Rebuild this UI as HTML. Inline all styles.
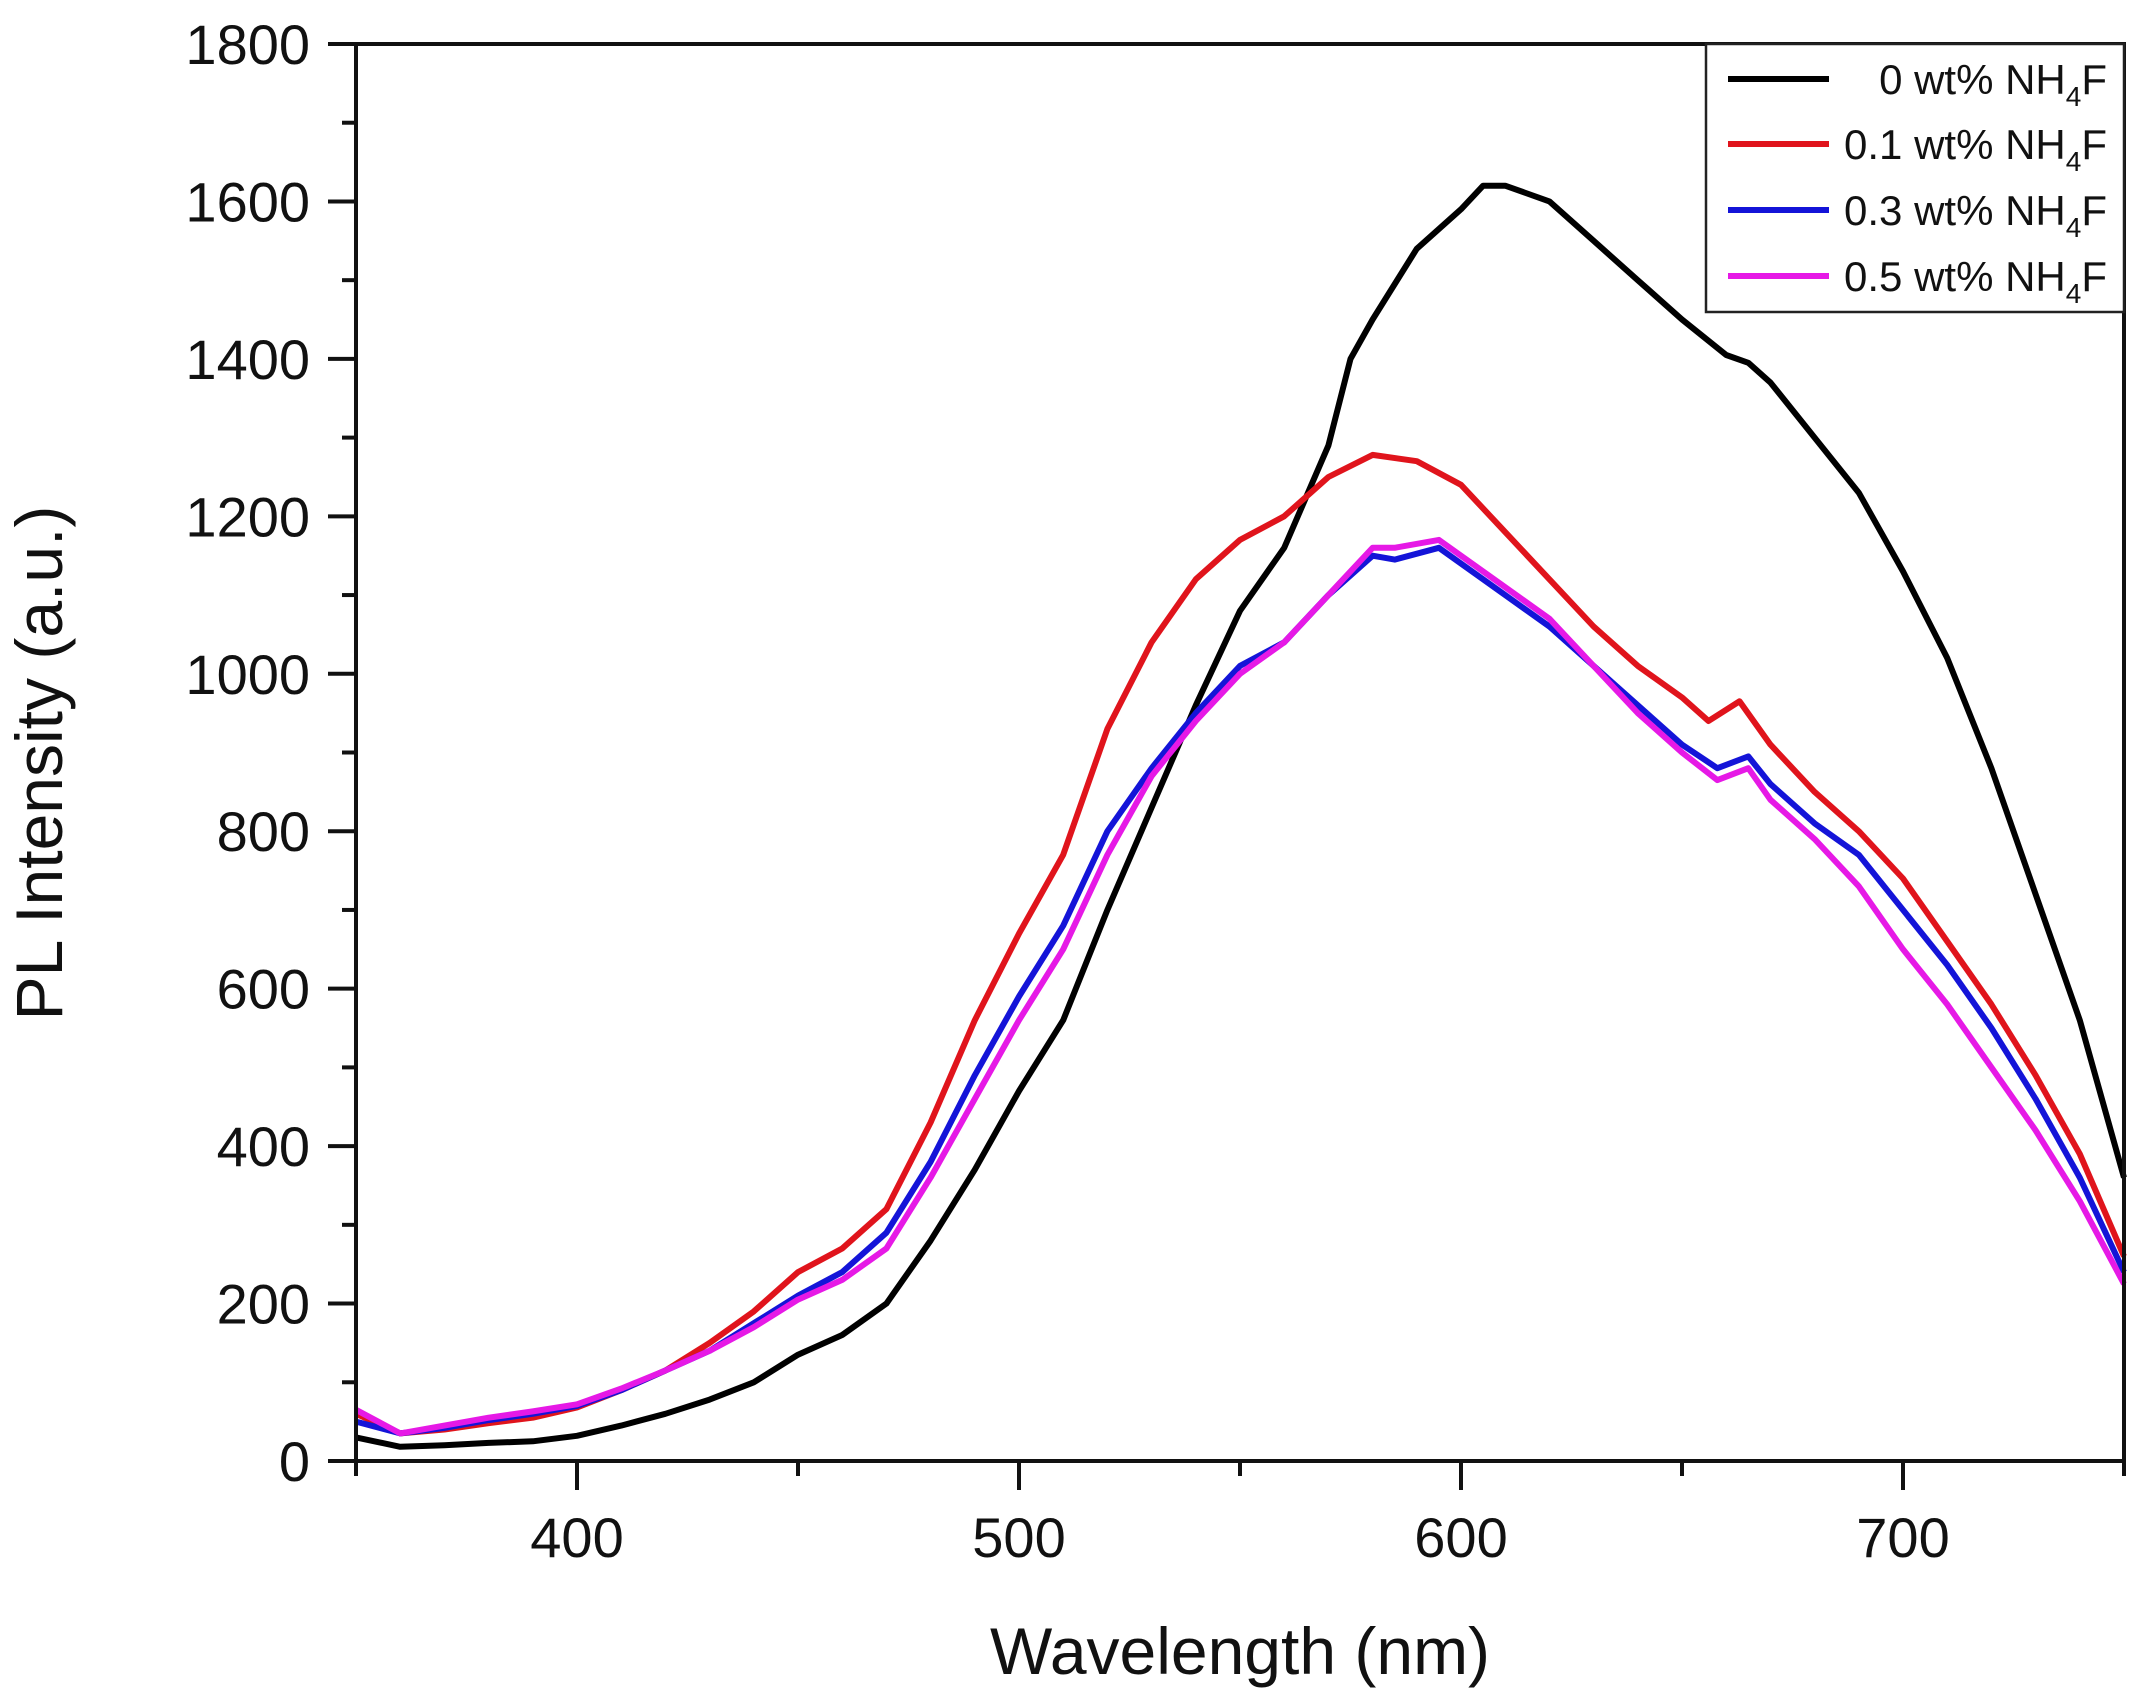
<!DOCTYPE html>
<html><head><meta charset="utf-8"><style>
html,body{margin:0;padding:0;background:#fff;}
svg{display:block;font-family:"Liberation Sans",sans-serif;}
</style></head><body>
<svg id="chart" width="2137" height="1699" viewBox="0 0 2137 1699" xmlns="http://www.w3.org/2000/svg">
<rect width="2137" height="1699" fill="#fff"/>
<g id="series"></g>
<g id="axes"></g>
<text x="0" y="0" transform="translate(62,763) rotate(-90)" text-anchor="middle" font-size="66" fill="#111">PL Intensity (a.u.)</text>
<text x="1240" y="1674" text-anchor="middle" font-size="66" fill="#111">Wavelength (nm)</text>
<g id="legend"></g>
</svg>
<script>
const wl0=[350,360,370,380,390,400,410,420,430,440,450,460,470,480,490,500,510,520,530,540,550,560,570,575,580,590,600,605,610,620,630,640,650,660,665,670,680,690,700,710,720,730,740,750];
const black=[30,18,20,23,25,32,45,60,78,100,135,160,200,280,370,470,560,700,830,960,1080,1160,1290,1400,1450,1540,1590,1620,1620,1600,1550,1500,1450,1405,1395,1370,1300,1230,1130,1020,880,720,560,360];
const wl1=[350,360,370,380,390,400,410,420,430,440,450,460,470,480,490,500,510,520,530,540,550,560,570,580,590,600,610,620,630,640,650,656,663,670,680,690,700,710,720,730,740,750];
const red=[60,35,40,48,55,68,90,115,150,190,240,270,320,430,560,670,770,930,1040,1120,1170,1200,1250,1278,1270,1240,1180,1120,1060,1010,970,940,965,910,850,800,740,660,580,490,390,260];
const wl2=[350,360,370,380,390,400,410,420,430,440,450,460,470,480,490,500,510,520,530,540,550,560,570,580,585,595,600,610,620,630,640,650,658,665,670,680,690,700,710,720,730,740,750];
const blue=[50,35,42,52,60,70,90,115,140,175,210,240,290,380,490,590,680,800,880,950,1010,1040,1100,1150,1145,1160,1140,1100,1060,1010,960,910,880,895,860,810,770,700,630,550,460,360,240];
const magenta=[65,35,45,55,63,72,92,115,140,170,205,230,270,360,460,560,650,770,870,940,1000,1040,1100,1160,1160,1170,1150,1110,1070,1010,950,900,865,880,840,790,730,650,580,500,420,330,225];
const xTicks=[400,500,600,700];
const yTicks=[0,200,400,600,800,1000,1200,1400,1600,1800];
const legendLabels=["0 wt% NH","0.1 wt% NH","0.3 wt% NH","0.5 wt% NH"];
const colors=["#000","#e0141c","#1414d8","#e619e6"];

const L=356,R=2124,T=44,B=1461;
const X=v=>L+(v-350)/400*(R-L);
const Y=v=>B-v/1800*(B-T);
const NS="http://www.w3.org/2000/svg";
function mk(tag,attrs,parent){const e=document.createElementNS(NS,tag);for(const k in attrs)e.setAttribute(k,attrs[k]);parent.appendChild(e);return e;}

const sg=document.getElementById('series');
const sets=[[wl0,black,'series-0wt'],[wl1,red,'series-0.1wt'],[wl2,blue,'series-0.3wt'],[wl2,magenta,'series-0.5wt']];
sets.forEach((s,i)=>{
  const d=s[0].map((w,j)=>(j?'L':'M')+X(w).toFixed(1)+','+Y(s[1][j]).toFixed(1)).join(' ');
  const p=mk('path',{d:d,fill:'none',stroke:colors[i],'stroke-width':6,'stroke-linejoin':'round'},sg);
  
  
});

const ax=document.getElementById('axes');
const frame=mk('rect',{x:L,y:T,width:R-L,height:B-T,fill:'none',stroke:'#111','stroke-width':4},ax);


yTicks.forEach(v=>{
  mk('line',{x1:L-28,x2:L,y1:Y(v),y2:Y(v),stroke:'#111','stroke-width':4},ax);
  if(v<1800) mk('line',{x1:L-14,x2:L,y1:Y(v+100),y2:Y(v+100),stroke:'#111','stroke-width':4},ax);
  const t=mk('text',{x:L-46,y:Y(v)+20,'text-anchor':'end','font-size':56,fill:'#111'},ax);
  t.textContent=v;
  
  
});
[350,450,550,650,750].forEach(v=>mk('line',{x1:X(v),x2:X(v),y1:B,y2:B+15,stroke:'#111','stroke-width':4},ax));
xTicks.forEach(v=>{
  mk('line',{x1:X(v),x2:X(v),y1:B,y2:B+29,stroke:'#111','stroke-width':4},ax);
  const t=mk('text',{x:X(v),y:1557,'text-anchor':'middle','font-size':56,fill:'#111'},ax);
  t.textContent=v;
  
  
});

const lg=document.getElementById('legend');
mk('rect',{x:1706,y:44,width:418,height:268,fill:'#fff',stroke:'#222','stroke-width':2.5},lg);
[79,144,210,276].forEach((y,i)=>{
  const ln=mk('line',{x1:1728,x2:1829,y1:y,y2:y,stroke:colors[i],'stroke-width':6},lg);
  
  
  const t=mk('text',{x:2107,y:y+15,'text-anchor':'end','font-size':42,fill:'#111'},lg);
  
  
  t.appendChild(document.createTextNode(legendLabels[i]));
  const sub=mk('tspan',{'font-size':28,dy:12},t); sub.textContent='4';
  const f=mk('tspan',{'font-size':42,dy:-12},t); f.textContent='F';
});
</script>
</body></html>
